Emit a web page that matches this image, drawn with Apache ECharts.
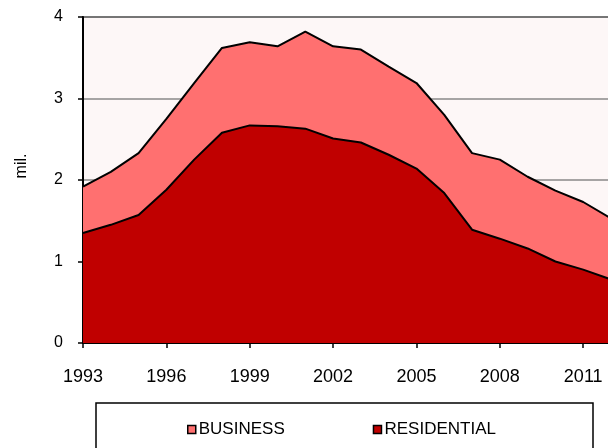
<!DOCTYPE html>
<html>
<head>
<meta charset="utf-8">
<script src="https://cdn.jsdelivr.net/npm/echarts@6/dist/echarts.min.js"></script>
<style>
  html, body { margin: 0; padding: 0; background: #fff; }
  #chart { width: 608px; height: 448px; }
</style>
</head>
<body>
<div id="chart"></div>
<script>
const years = ['1993', '1994', '1995', '1996', '1997', '1998', '1999', '2000', '2001', '2002',
    '2003', '2004', '2005', '2006', '2007', '2008', '2009', '2010', '2011', '2012'];
const residential = [1.35, 1.45, 1.57, 1.88, 2.25, 2.58, 2.67, 2.66, 2.63, 2.51,
    2.46, 2.31, 2.14, 1.84, 1.39, 1.28, 1.16, 1.00, 0.90, 0.78];
const business = [0.57, 0.65, 0.76, 0.87, 0.94, 1.04, 1.02, 0.98, 1.19, 1.13,
    1.14, 1.08, 1.05, 0.96, 0.94, 0.97, 0.88, 0.87, 0.83, 0.75];
const yTicks = [0, 1, 2, 3, 4];

const font = "'Liberation Sans', Arial, sans-serif";

document.addEventListener("DOMContentLoaded", () => {
    echarts.init(document.querySelector("#chart")).setOption({
        animation: false,
        textStyle: { fontFamily: font, color: '#000' },
        grid: {
            left: 83,
            top: 17,
            bottom: 105,
            width: 528,
            outerBoundsMode: 'none',
            containLabel: false,
            show: true,
            backgroundColor: '#fdf7f7',
            borderColor: '#000',
            borderWidth: 1.5
        },
        legend: {
            data: ['BUSINESS', 'RESIDENTIAL'],
            left: 182,
            top: 416,
            icon: 'rect',
            itemWidth: 8,
            itemHeight: 8,
            itemGap: 88,
            itemStyle: { borderColor: '#000', borderWidth: 1.5 },
            textStyle: { fontFamily: font, fontSize: 17, color: '#000', padding: [0, 0, 0, -2] }
        },
        graphic: [{
            type: 'rect',
            z: -1,
            shape: { x: 96, y: 403, width: 497, height: 60 },
            style: { fill: 'none', stroke: '#000', lineWidth: 1.5 }
        }],
        xAxis: {
            type: 'category',
            data: years,
            boundaryGap: false,
            axisLine: { lineStyle: { color: '#000', width: 2 } },
            axisTick: { length: 5, lineStyle: { color: '#000', width: 1.5 } },
            axisLabel: {
                interval: 2,
                margin: 25,
                fontSize: 18,
                color: '#000',
                fontFamily: font
            },
            splitLine: { show: false }
        },
        yAxis: {
            type: 'value',
            min: yTicks[0],
            max: yTicks[yTicks.length - 1],
            interval: 1,
            name: 'mil.',
            nameLocation: 'middle',
            nameGap: 53,
            nameRotate: 90,
            nameTextStyle: { fontSize: 16, color: '#000', fontFamily: font, padding: [0, 0, 0, 28] },
            axisLine: { show: true, lineStyle: { color: '#000', width: 2 } },
            axisTick: { show: true, length: 5, lineStyle: { color: '#000', width: 1.5 } },
            axisLabel: { margin: 20, fontSize: 16, color: '#000', fontFamily: font },
            splitLine: { lineStyle: { color: '#888', width: 1.5 } }
        },
        series: [
            {
                name: 'RESIDENTIAL',
                type: 'line',
                stack: 'total',
                data: residential,
                symbol: 'none',
                itemStyle: { color: '#c00000' },
                lineStyle: { color: '#000', width: 2 },
                areaStyle: { color: '#c00000', opacity: 1 }
            },
            {
                name: 'BUSINESS',
                type: 'line',
                stack: 'total',
                data: business,
                symbol: 'none',
                itemStyle: { color: '#ff7070' },
                lineStyle: { color: '#000', width: 2 },
                areaStyle: { color: '#ff7070', opacity: 1 }
            }
        ]
    });
});
</script>
</body>
</html>
